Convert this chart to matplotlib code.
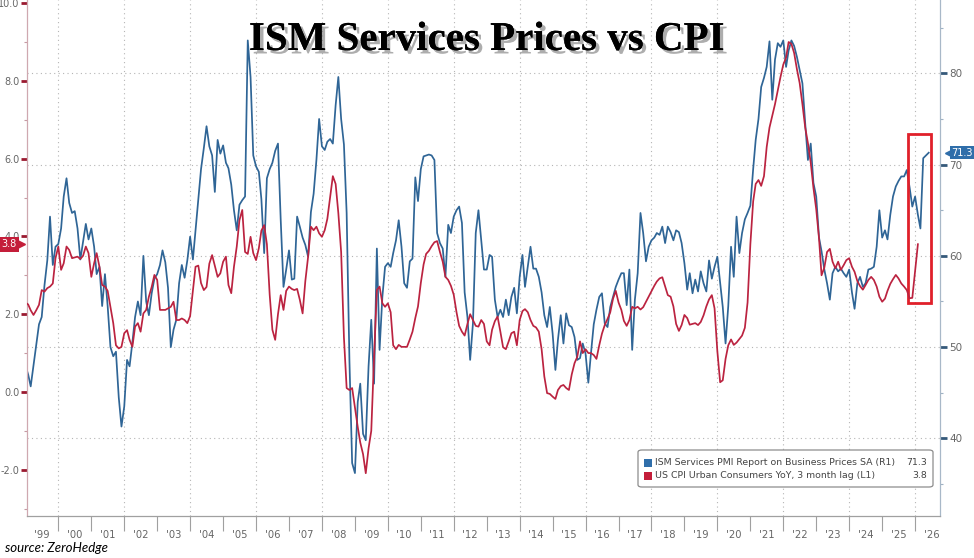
import numpy as np
import pandas as pd
import matplotlib
matplotlib.use("Agg")
import matplotlib.pyplot as plt
import matplotlib.dates as mdates
import matplotlib.patheffects as pe
from matplotlib.patches import FancyBboxPatch, Rectangle
from matplotlib.transforms import blended_transform_factory

# ---------------- data ----------------
TITLE = "ISM Services Prices vs CPI"
SOURCE = "source: ZeroHedge"
ISM_NAME = "ISM Services PMI Report on Business Prices SA (R1)"
CPI_NAME = "US CPI Urban Consumers YoY, 3 month lag (L1)"
START = "1999-01-01"   # monthly series start

ism_prices = [
    48.0, 47.0, 45.7, 48.0, 50.3, 52.5, 53.3, 56.8, 59.5, 64.3, 59.0, 61.0,
    61.3, 63.0, 66.5, 68.5, 65.8, 64.7, 64.9, 63.0, 59.6, 61.5, 63.5, 61.8,
    63.0, 61.0, 58.0, 58.8, 54.5, 58.0, 54.5, 50.0, 49.0, 49.5, 44.5, 41.3,
    43.5, 48.6, 47.9, 50.5, 53.3, 55.0, 53.5, 60.0, 55.0, 53.5, 55.9, 57.5,
    58.0, 59.0, 60.6, 59.3, 56.5, 50.0, 51.9, 53.0, 57.0, 59.0, 57.6, 59.5,
    62.1, 59.6, 62.8, 66.1, 69.5, 71.8, 74.2, 72.0, 71.0, 67.0, 72.7, 71.2,
    72.1, 70.2, 69.6, 67.8, 65.0, 62.8, 65.6, 66.1, 66.5, 83.6, 79.6, 71.0,
    69.8, 69.2, 66.2, 60.3, 68.5, 69.5, 70.2, 71.5, 72.3, 64.0, 56.6, 58.5,
    60.6, 57.4, 57.5, 64.3, 63.2, 62.0, 61.2, 59.9, 64.8, 66.8, 70.5, 75.0,
    72.0, 71.6, 72.5, 72.8, 72.3, 76.5, 79.6, 75.0, 72.2, 64.7, 48.5, 37.3,
    36.2, 44.0, 46.0, 40.5, 39.8, 47.9, 53.0, 46.0, 60.8, 49.7, 55.5, 58.8,
    59.2, 58.8, 60.3, 61.7, 63.9, 61.0, 57.0, 56.5, 59.4, 59.7, 68.6, 66.0,
    69.5, 70.9, 71.0, 71.1, 71.0, 70.5, 62.5, 61.4, 60.8, 57.7, 63.4, 62.5,
    64.3, 65.0, 65.4, 63.6, 56.0, 53.3, 48.6, 52.6, 62.5, 65.0, 61.7, 58.5,
    58.5, 60.1, 59.9, 55.2, 53.3, 54.1, 53.3, 55.2, 53.5, 55.5, 56.5, 53.7,
    57.7, 60.1, 56.6, 58.8, 61.0, 58.6, 58.6, 57.7, 56.0, 53.5, 52.2, 54.4,
    51.5, 47.5, 50.8, 53.5, 50.4, 53.7, 52.4, 52.2, 51.1, 48.6, 48.8, 50.4,
    49.3, 46.1, 49.3, 52.5, 54.1, 55.5, 55.9, 52.6, 52.2, 54.4, 55.5, 56.6,
    57.4, 58.1, 58.1, 54.6, 58.5, 49.7, 55.2, 58.1, 64.7, 62.5, 59.4, 61.0,
    61.7, 62.0, 62.5, 62.3, 63.2, 61.4, 63.2, 62.6, 61.7, 62.8, 62.6, 61.4,
    59.2, 56.3, 58.1, 55.9, 57.4, 56.1, 58.3, 57.0, 56.1, 59.5, 57.5, 58.8,
    59.9, 57.0, 54.4, 50.4, 54.5, 61.0, 57.7, 64.3, 60.3, 62.5, 64.0, 64.7,
    65.5, 69.5, 72.7, 75.0, 78.5, 79.5, 80.7, 83.5, 77.1, 81.5, 83.3, 82.9,
    83.6, 80.7, 82.5, 83.6, 83.0, 81.8, 80.4, 78.9, 74.5, 70.5, 72.3, 68.0,
    66.5, 62.0, 60.5, 58.5, 57.0, 55.2, 58.1, 58.8, 58.3, 58.6, 58.1, 57.7,
    58.5, 56.0, 54.2, 57.0, 57.7, 56.6, 57.0, 58.5, 58.6, 58.8, 61.0, 65.0,
    62.0, 62.8, 61.8, 64.5, 66.5, 67.6, 68.2, 68.7, 68.7, 69.4, 67.5, 65.4,
    66.5, 64.5, 63.0, 70.7, 71.0, 71.3,
]

cpi_yoy_lag3 = [
    2.30, 2.25, 2.10, 1.98, 2.10, 2.24, 2.62, 2.58, 2.67, 2.71, 2.79, 3.44,
    3.74, 3.14, 3.31, 3.74, 3.65, 3.44, 3.46, 3.48, 3.42, 3.50, 3.74, 3.57,
    2.96, 3.31, 3.57, 3.22, 2.75, 2.71, 2.60, 2.19, 1.77, 1.20, 1.12, 1.16,
    1.51, 1.59, 1.34, 1.16, 1.68, 1.77, 1.55, 2.02, 2.11, 2.45, 2.70, 3.01,
    2.88, 2.11, 2.11, 2.11, 2.15, 2.19, 2.32, 1.85, 1.85, 1.89, 1.85, 1.77,
    1.95, 2.60, 3.22, 3.25, 2.80, 2.62, 2.70, 3.30, 3.52, 3.25, 2.96, 3.05,
    3.35, 3.48, 2.75, 2.54, 3.22, 3.74, 4.42, 4.68, 3.60, 3.55, 3.99, 3.57,
    3.39, 3.70, 4.15, 4.29, 3.80, 2.50, 1.60, 1.34, 2.00, 2.49, 2.11, 2.60,
    2.71, 2.65, 2.62, 2.65, 2.37, 2.02, 2.85, 3.48, 4.25, 4.16, 4.25, 4.08,
    3.99, 4.16, 4.45, 5.00, 5.55, 5.35, 4.60, 3.60, 1.40, 0.10, 0.05, 0.10,
    -0.40, -0.90, -1.30, -1.60, -2.09, -1.45, -1.00, 0.90, 2.62, 2.71, 2.28, 2.19,
    2.28, 2.05, 1.20, 1.10, 1.21, 1.16, 1.16, 1.16, 1.35, 1.55, 1.90, 2.20,
    2.80, 3.28, 3.55, 3.63, 3.75, 3.85, 3.88, 3.60, 3.35, 2.96, 2.88, 2.73,
    2.50, 2.05, 1.70, 1.55, 1.45, 1.75, 2.00, 1.85, 1.70, 1.68, 1.85, 1.75,
    1.30, 1.20, 1.60, 1.82, 1.94, 1.55, 1.15, 1.10, 1.30, 1.51, 1.55, 1.20,
    1.85, 2.08, 2.13, 2.05, 1.85, 1.70, 1.66, 1.55, 1.10, 0.40, -0.03, -0.05,
    -0.12, -0.18, 0.05, 0.15, 0.18, 0.10, 0.05, 0.45, 0.74, 0.90, 1.30, 1.00,
    1.10, 1.00, 1.00, 0.95, 0.85, 1.20, 1.50, 1.72, 1.88, 2.05, 2.40, 2.60,
    2.30, 2.11, 1.83, 1.70, 1.85, 2.19, 2.15, 2.19, 2.12, 2.18, 2.32, 2.45,
    2.60, 2.73, 2.84, 2.92, 2.95, 2.72, 2.49, 2.45, 2.20, 1.75, 1.57, 1.72,
    1.98, 1.90, 1.73, 1.75, 1.77, 1.72, 1.80, 1.97, 2.20, 2.38, 2.49, 2.15,
    1.05, 0.25, 0.30, 0.85, 1.20, 1.35, 1.21, 1.27, 1.36, 1.45, 1.65, 2.30,
    3.80, 4.90, 5.35, 5.45, 5.30, 5.55, 6.30, 6.80, 7.10, 7.40, 7.75, 8.10,
    8.42, 8.60, 9.00, 8.95, 8.72, 8.30, 7.95, 7.40, 6.80, 6.40, 5.90, 5.25,
    4.70, 3.95, 3.00, 3.20, 3.60, 3.68, 3.35, 3.18, 3.35, 3.14, 3.26, 3.39,
    3.44, 3.22, 3.09, 2.85, 2.72, 2.63, 2.75, 2.88, 2.96, 2.88, 2.71, 2.45,
    2.32, 2.40, 2.60, 2.78, 2.90, 3.01, 2.92, 2.79, 2.71, 2.62, 2.41, 2.42,
    3.10, 3.80,
]

LEFT_TICKS = [-2, 0, 2, 4, 6, 8, 10]
LEFT_MINOR = [-3, -1, 1, 3, 5, 7, 9]
RIGHT_TICKS = [40, 50, 60, 70, 80]
RIGHT_MINOR = [35, 45, 55, 65, 75, 85]
YEARS = list(range(1999, 2027))
YEAR_LABELS = ["'" + str(y)[2:] for y in YEARS]

# ---------------- styling ----------------
W, H = 974, 558
BLUE = "#2f6596"
RED = "#bb2340"
GRID = "#b5b5b5"
LABEL = "#666666"

def fx(px):
    return px / W

def fy(py):
    return 1 - py / H

fig = plt.figure(figsize=(W / 100, H / 100), dpi=100)
fig.patch.set_facecolor("white")

ax = fig.add_axes([fx(27), fy(516), fx(940) - fx(27), fy(0) - fy(516)])
ax2 = ax.twinx()

ism_dates = pd.date_range(START, periods=len(ism_prices), freq="MS")
cpi_dates = pd.date_range(START, periods=len(cpi_yoy_lag3), freq="MS")

# blue on right axis, red on left axis (red drawn on top)
ax2.plot(ism_dates, ism_prices, color=BLUE, lw=1.25, zorder=3)
ax.plot(cpi_dates, cpi_yoy_lag3, color=RED, lw=1.25, zorder=3)
ax.set_zorder(ax2.get_zorder() + 1)
ax.patch.set_visible(False)

xmin, xmax = pd.Timestamp("1999-01-19"), pd.Timestamp("2026-10-04")
ax.set_xlim(xmin, xmax)
ax.set_ylim(-3.19, 10.08)
ax2.set_ylim(31.5, 88.03)

# grid: horizontal on right-axis majors, vertical every two years
ax2.set_yticks(RIGHT_TICKS)
ax2.set_yticks(RIGHT_MINOR, minor=True)
ax2.yaxis.grid(True, which="major", color=GRID, lw=0.8, linestyle=(0, (1, 3)))
for y in YEARS:
    if y % 2 == 0:
        ax2.axvline(pd.Timestamp(f"{y}-01-01"), color=GRID, lw=0.8,
                    linestyle=(0, (1, 3)), zorder=0)

# x axis: separators at each January, labels mid-year
ax.set_xticks([pd.Timestamp(f"{y}-01-01") for y in YEARS[1:]])
ax.set_xticklabels([])
ax.set_xticks([pd.Timestamp(f"{y}-07-01") for y in YEARS], minor=True)
ax.set_xticklabels(YEAR_LABELS, minor=True)
ax.tick_params(axis="x", which="major", length=11, width=0.8, color="#a0a0a0",
               direction="out")
ax.tick_params(axis="x", which="minor", length=0, pad=10, labelsize=7.2,
               labelcolor=LABEL)

# left axis
ax.set_yticks(LEFT_TICKS)
ax.set_yticklabels([f"{v:.1f}" for v in LEFT_TICKS])
ax.set_yticks(LEFT_MINOR, minor=True)
ax.tick_params(axis="y", which="major", length=4, width=2, color="#9a1a30",
               labelsize=7, labelcolor=LABEL, pad=1.5)
ax.tick_params(axis="y", which="minor", length=2.5, width=0.8, color="#c59aa3")

# right axis
ax2.set_yticklabels([str(v) for v in RIGHT_TICKS])
ax2.tick_params(axis="y", which="major", length=5, width=2, color="#35597a",
                labelsize=7.5, labelcolor=LABEL, pad=1.5)
ax2.tick_params(axis="y", which="minor", length=2.5, width=0.8, color="#9fb2c4")

for a in (ax, ax2):
    a.spines["top"].set_visible(False)
ax.spines["left"].set_color("#cfa8b0")
ax.spines["right"].set_visible(False)
ax2.spines["left"].set_visible(False)
ax2.spines["right"].set_color("#a8b8c8")
ax.spines["bottom"].set_color("#a0a0a0")
ax2.spines["bottom"].set_visible(False)
for a in (ax, ax2):
    for s in a.spines.values():
        s.set_linewidth(0.9)

# last-value badges
last_ism = ism_prices[-1]
last_cpi = cpi_yoy_lag3[-1]
tr2 = blended_transform_factory(ax2.transAxes, ax2.transData)
tr1 = blended_transform_factory(ax.transAxes, ax.transData)
ax2.plot([1.0105], [last_ism], marker="<", ms=7, color="#2f6eaa",
         transform=tr2, clip_on=False, zorder=6)
ax2.text(1.0245, last_ism, f"{last_ism:.1f}", transform=tr2, ha="center",
         va="center", fontsize=7, color="white", clip_on=False, zorder=7,
         bbox=dict(boxstyle="square,pad=0.18", fc="#2f6eaa", ec="none"))
ax.plot([-0.0075], [last_cpi], marker=">", ms=7, color="#c41e3a",
        transform=tr1, clip_on=False, zorder=6)
ax.text(-0.0195, last_cpi, f"{last_cpi:.1f}", transform=tr1, ha="center",
        va="center", fontsize=7, color="white", clip_on=False, zorder=7,
        bbox=dict(boxstyle="square,pad=0.25", fc="#c41e3a", ec="none"))

# highlight box around the latest readings
hl_x0 = pd.Timestamp("2025-10-15")
hl_x1 = pd.Timestamp("2026-06-25")
hl = Rectangle((mdates.date2num(hl_x0), 54.8),
               mdates.date2num(hl_x1) - mdates.date2num(hl_x0), 18.55,
               fill=False, ec="#e0202a", lw=2.0, zorder=8)
ax2.add_patch(hl)

# title
fig.text(0.5, fy(50), TITLE, ha="center", va="baseline",
         fontsize=29.5, fontweight="bold", family="Liberation Serif",
         color="black",
         path_effects=[pe.withSimplePatchShadow(offset=(2.5, -2.5),
                                                shadow_rgbFace="#777777",
                                                alpha=0.6),
                       pe.Normal()])

# legend box
box = FancyBboxPatch((fx(638), fy(487)), fx(933) - fx(638), fy(450) - fy(487),
                     boxstyle="round,pad=0,rounding_size=0.004",
                     transform=fig.transFigure, fc="white", ec="#8c8c8c",
                     lw=0.9, zorder=10)
fig.add_artist(box)
rows = [(ISM_NAME, f"{last_ism:.1f}", "#2f6eaa", 462.5),
        (CPI_NAME, f"{last_cpi:.1f}", "#c41e3a", 475.5)]
for name, val, col, py in rows:
    sq = Rectangle((fx(644), fy(py + 4)), fx(8), 8 / H, transform=fig.transFigure,
                   fc=col, ec="none", zorder=11)
    fig.add_artist(sq)
    fig.text(fx(655), fy(py), name, ha="left", va="center", fontsize=6.75,
             color="#444444", zorder=12)
    fig.text(fx(927), fy(py), val, ha="right", va="center", fontsize=6.75,
             color="#444444", zorder=12)

# source
fig.text(fx(5), fy(552), SOURCE, ha="left", va="baseline", fontsize=9.5,
         style="italic", family="Lato", color="black")

fig.savefig("out.png", dpi=100, facecolor="white")
